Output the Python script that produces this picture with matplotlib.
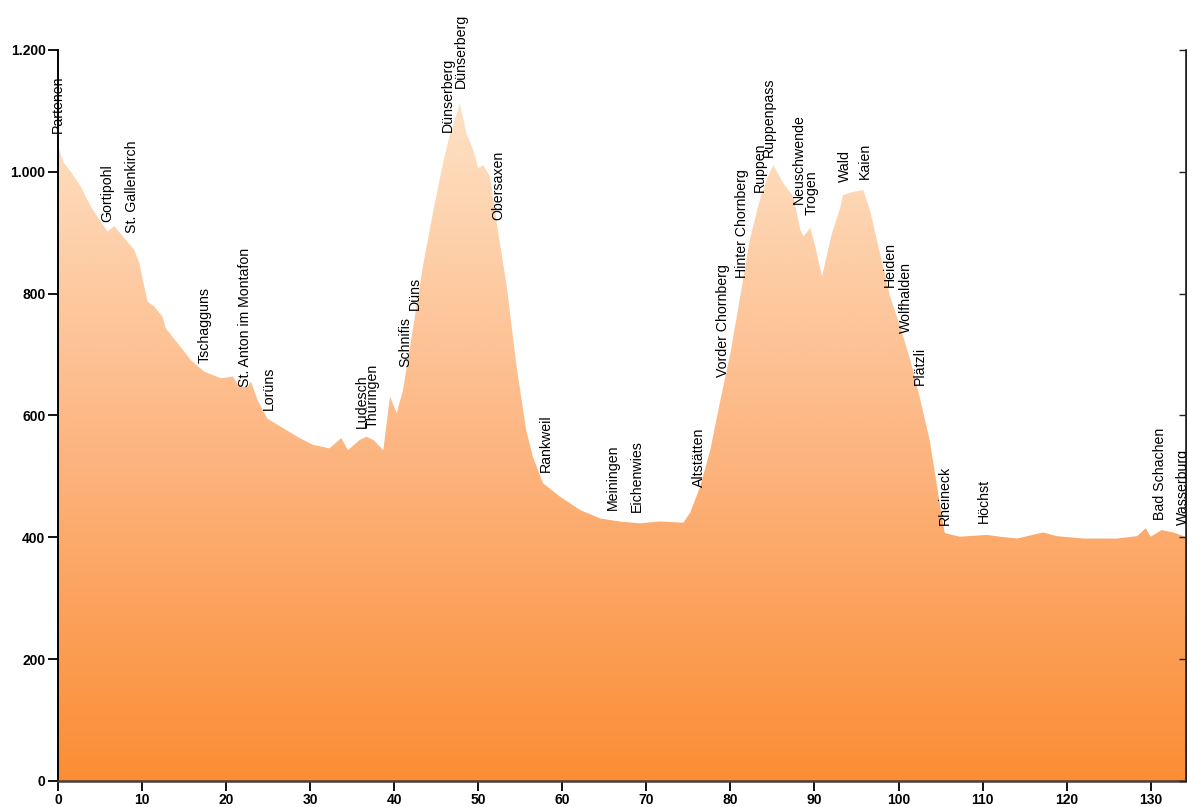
import numpy as np
import matplotlib
matplotlib.use("Agg")
import matplotlib.pyplot as plt
from matplotlib.colors import LinearSegmentedColormap
from matplotlib.patches import Polygon

# ---- data ----
km = [0.0, 0.14, 0.74, 1.53, 2.7, 3.9, 5.1, 5.9, 6.7, 7.9, 9.07, 9.67, 10.26, 10.65,
      11.45, 12.44, 12.83, 14.2, 15.8, 17.4, 19.4, 20.8, 21.6, 22.6, 22.95, 23.75,
      24.9, 26.8, 28.75, 30.3, 32.3, 33.7, 34.5, 35.9, 36.7, 37.5, 38.7, 39.5, 40.3,
      41.05, 42.2, 43.4, 44.6, 45.8, 46.6, 47.0, 47.8, 48.6, 49.4, 50.0, 50.6, 51.4,
      52.2, 53.4, 54.5, 55.7, 56.5, 57.7, 59.7, 62.1, 64.5, 66.8, 69.2, 71.6, 74.4,
      75.2, 76.4, 77.6, 78.8, 80.0, 81.1, 82.3, 83.5, 84.3, 85.1, 86.3, 87.5, 88.3,
      88.7, 89.5, 90.1, 90.9, 92.0, 93.1, 93.4, 94.6, 95.8, 96.6, 97.8, 99.0, 100.2,
      101.4, 102.5, 103.7, 104.9, 105.5, 107.3, 110.5, 112.1, 114.1, 117.2, 118.8,
      122.0, 126.0, 128.4, 129.4, 130.0, 131.3, 132.7, 133.9, 134.2]
elev = [1040, 1036, 1014, 1000, 976, 943, 918, 902, 911, 891, 872, 850, 812, 787,
        779, 762, 743, 719, 691, 672, 661, 664, 647, 647, 656, 625,
        595, 579, 563, 552, 546, 563, 543, 560, 565, 560, 543, 631, 604,
        642, 740, 844, 932, 1014, 1060, 1075, 1113, 1063, 1036, 1006, 1011, 992,
        916, 811, 686, 576, 532, 489, 467, 445, 431, 426, 423, 426, 424,
        440, 483, 543, 625, 702, 790, 888, 954, 987, 1011, 981, 959, 905,
        894, 908, 877, 828, 895, 943, 962, 967, 970, 937, 866, 795, 746,
        691, 631, 560, 456, 407, 401, 404, 401, 398, 408, 402,
        398, 398, 402, 415, 401, 412, 408, 402, 400]

place_names = ["Partenen", "Gortipohl", "St. Gallenkirch", "Tschagguns",
               "St. Anton im Montafon", "Lorüns", "Ludesch", "Thüringen", "Schnifis",
               "Düns", "Dünserberg", "Dünserberg", "Obersaxen", "Rankweil", "Meiningen",
               "Eichenwies", "Altstätten", "Vorder Chornberg", "Hinter Chornberg",
               "Ruppen", "Ruppenpass", "Neuschwende", "Trogen", "Wald", "Kaien",
               "Heiden", "Wolfhalden", "Plätzli", "Rheineck", "Höchst",
               "Bad Schachen", "Wasserburg"]
place_km = [0.0, 5.8, 8.75, 17.4, 22.3, 25.1, 36.1, 37.4, 41.3, 42.4, 46.4, 47.9,
            52.4, 58.1, 66.0, 68.9, 76.2, 79.1, 81.4, 83.5, 84.6, 88.1, 89.7, 93.6,
            96.0, 99.0, 100.9, 102.5, 105.5, 110.1, 131.1, 133.8]
place_elev = [1064, 918, 900, 686, 647, 609, 579, 580, 680, 773, 1066, 1138,
              921, 508, 445, 442, 483, 664, 825, 967, 1025, 948, 929, 984,
              989, 811, 735, 650, 420, 423, 428, 420]

x_ticks = [0, 10, 20, 30, 40, 50, 60, 70, 80, 90, 100, 110, 120, 130]
y_ticks = [0, 200, 400, 600, 800, 1000, 1200]
y_tick_labels = ["0", "200", "400", "600", "800", "1.000", "1.200"]

# ---- figure ----
W, H = 1187, 807
fig = plt.figure(figsize=(W / 100, H / 100), dpi=100)
ax = fig.add_axes([58 / W, 26 / H, (1186 - 58) / W, (781 - 50) / H])
xmax = 134.2
ax.set_xlim(0, xmax)
ax.set_ylim(0, 1200)

# gradient fill clipped to profile
cmap = LinearSegmentedColormap.from_list("peach", ["#fb8d34", "#fdb682", "#fde2c6"])
gtop = max(elev)
grad = np.linspace(0, 1, 256).reshape(-1, 1)
im = ax.imshow(grad, cmap=cmap, origin="lower", aspect="auto",
               extent=[0, xmax, 0, gtop], zorder=1, interpolation="bilinear")
poly_pts = [(0, 0)] + list(zip(km, elev)) + [(xmax, 0)]
poly = Polygon(poly_pts, closed=True, facecolor="none", edgecolor="none",
               transform=ax.transData)
ax.add_patch(poly)
im.set_clip_path(poly)

# labels
for name, xk, ye in zip(place_names, place_km, place_elev):
    ax.text(xk, ye, name, rotation=90, ha="center", va="bottom",
            fontsize=10.2, family="Liberation Sans", color="black", zorder=5,
            clip_on=False)

# axes styling
for s in ["top"]:
    ax.spines[s].set_visible(False)
ax.spines["left"].set_color("black")
ax.spines["left"].set_linewidth(1.4)
ax.spines["bottom"].set_color("#4a3e3a")
ax.spines["bottom"].set_linewidth(1.8)
ax.spines["right"].set_color("#222222")
ax.spines["right"].set_linewidth(1.2)
ax.spines["left"].set_zorder(6)
ax.spines["bottom"].set_zorder(6)

ax.set_xticks(x_ticks)
ax.set_xticklabels([str(v) for v in x_ticks])
ax.set_yticks(y_ticks)
ax.set_yticklabels(y_tick_labels)
ax.tick_params(axis="both", direction="out", length=7, width=1.3, color="black",
               labelsize=10, pad=2)
for lab in ax.get_xticklabels() + ax.get_yticklabels():
    lab.set_family("Liberation Sans")
    lab.set_fontweight("bold")

ax2 = ax.twinx()
ax2.set_ylim(0, 1200)
ax2.set_yticks(y_ticks)
ax2.tick_params(axis="y", direction="in", length=5, width=1.0, color="#222222",
                labelright=False)
for s in ["top", "left", "bottom"]:
    ax2.spines[s].set_visible(False)
ax2.spines["right"].set_color("#222222")

fig.savefig("out.png", dpi=100, facecolor="white")
